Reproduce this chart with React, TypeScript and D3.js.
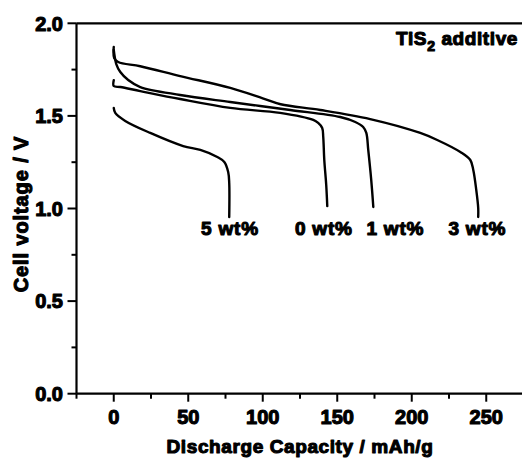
import React from "react";
import * as d3 from "d3";

// Discharge capacity (mAh/g) and cell voltage (V) for each TiS2 content
const series0cap = [0, 0, 4.4, 17.8, 44.6, 78.2, 111.7, 133.9, 137.2, 139.9, 140.6, 141.3, 142.6, 143.3];
const series0volt = [1.693, 1.661, 1.656, 1.634, 1.591, 1.543, 1.516, 1.478, 1.462, 1.435, 1.386, 1.262, 1.127, 1.013];

const series1cap = [0, 1.7, 4.4, 9.7, 17.8, 44.6, 78.2, 118.5, 152.0, 162.1, 167.4, 169.5, 170.8, 172.8, 174.2];
const series1volt = [1.856, 1.78, 1.737, 1.694, 1.656, 1.613, 1.575, 1.532, 1.494, 1.467, 1.44, 1.408, 1.316, 1.154, 1.008];

const series3cap = [0, 0.3, 3.0, 17.8, 44.6, 78.2, 100.0, 112.0, 138.6, 172.1, 205.7, 217.1, 232.6, 239.3, 241.3, 243.3, 244.6, 244.6];
const series3volt = [1.872, 1.813, 1.791, 1.768, 1.715, 1.651, 1.595, 1.563, 1.532, 1.483, 1.408, 1.37, 1.305, 1.262, 1.208, 1.1, 1.003, 0.954];

const series5cap = [0, 1.0, 7.7, 24.5, 46.6, 58.1, 69.5, 74.2, 76.8, 77.5, 77.5];
const series5volt = [1.543, 1.516, 1.473, 1.408, 1.337, 1.316, 1.278, 1.251, 1.197, 1.138, 0.954];

const seriesLabels = ["5 wt%", "0 wt%", "1 wt%", "3 wt%"];
const labelCap = [78, 141, 189, 244];
const labelVolt = [0.855, 0.855, 0.855, 0.855];

const xMajor = [0, 50, 100, 150, 200, 250];
const xMinor = [-25, 25, 75, 125, 175, 225];
const yMajor = [0, 0.5, 1.0, 1.5, 2.0];
const yMinor = [0.25, 0.75, 1.25, 1.75];

const FONT = "'Liberation Sans', Arial, sans-serif";

export default function App() {
  const W = 522;
  const H = 458;
  const x = d3.scaleLinear().domain([-25, 275]).range([76.5, 523.5]);
  const y = d3.scaleLinear().domain([0, 2]).range([393.7, 23.3]);
  const left = x(-25);
  const bottom = y(0);
  const top = y(2);

  const line = d3
    .line<[number, number]>()
    .x((d) => x(d[0]))
    .y((d) => y(d[1]))
    .curve(d3.curveCatmullRom.alpha(0.5));

  const all = [
    [series0cap, series0volt],
    [series1cap, series1volt],
    [series3cap, series3volt],
    [series5cap, series5volt],
  ];

  const textStyle = {
    fontFamily: FONT,
    fontWeight: 700,
    fill: "#000",
    stroke: "#000",
    strokeWidth: 1.1,
    strokeLinejoin: "round",
  } as React.CSSProperties;

  return (
    <svg
      width={W}
      height={H}
      style={{ position: "absolute", left: 0, top: 0, background: "#fff" }}
    >
      <rect x={0} y={0} width={W} height={H} fill="#fff" />
      {/* curves */}
      {all.map(([cap, volt], i) => (
        <path
          key={i}
          d={line(cap.map((c, j) => [c, volt[j]] as [number, number])) || ""}
          fill="none"
          stroke="#000"
          strokeWidth={2.4}
          strokeLinejoin="round"
          strokeLinecap="round"
        />
      ))}
      {/* frame */}
      <line x1={left} x2={W} y1={top} y2={top} stroke="#000" strokeWidth={2.2} />
      <line x1={left} x2={left} y1={top} y2={bottom} stroke="#000" strokeWidth={2.2} />
      <line x1={left} x2={W} y1={bottom} y2={bottom} stroke="#000" strokeWidth={2.2} />
      {/* y ticks */}
      {yMajor.map((v) => (
        <g key={"ym" + v}>
          <line x1={left - 9} x2={left} y1={y(v)} y2={y(v)} stroke="#000" strokeWidth={2} />
          <text
            x={63}
            y={y(v)}
            dy="0.36em"
            textAnchor="end"
            fontSize={20}
            style={textStyle}
          >
            {v.toFixed(1)}
          </text>
        </g>
      ))}
      {yMinor.map((v) => (
        <line key={"yn" + v} x1={left - 5} x2={left} y1={y(v)} y2={y(v)} stroke="#000" strokeWidth={2} />
      ))}
      {/* x ticks */}
      {xMajor.map((v) => (
        <g key={"xm" + v}>
          <line x1={x(v)} x2={x(v)} y1={bottom} y2={bottom + 8} stroke="#000" strokeWidth={2} />
          <text x={x(v)} y={424} textAnchor="middle" fontSize={20} style={textStyle}>
            {v}
          </text>
        </g>
      ))}
      {xMinor.map((v) => (
        <line key={"xn" + v} x1={x(v)} x2={x(v)} y1={bottom} y2={bottom + 5} stroke="#000" strokeWidth={2} />
      ))}
      {/* axis titles */}
      <text x={300} y={453} textAnchor="middle" fontSize={19} letterSpacing={0.6} style={textStyle}>
        Discharge Capacity / mAh/g
      </text>
      <text
        transform={`translate(28,214) rotate(-90)`}
        textAnchor="middle"
        fontSize={20}
        letterSpacing={0.9}
        style={textStyle}
      >
        Cell voltage / V
      </text>
      {/* annotation */}
      <text x={518} y={45} textAnchor="end" fontSize={19} letterSpacing={0.6} style={textStyle}>
        TiS
        <tspan fontSize={14} dy={6}>2</tspan>
        <tspan dy={-6}> additive</tspan>
      </text>
      {seriesLabels.map((s, i) => (
        <text
          key={s}
          x={x(labelCap[i])}
          y={y(labelVolt[i])}
          textAnchor="middle"
          fontSize={19}
          letterSpacing={0.8}
          style={textStyle}
        >
          {s}
        </text>
      ))}
    </svg>
  );
}
